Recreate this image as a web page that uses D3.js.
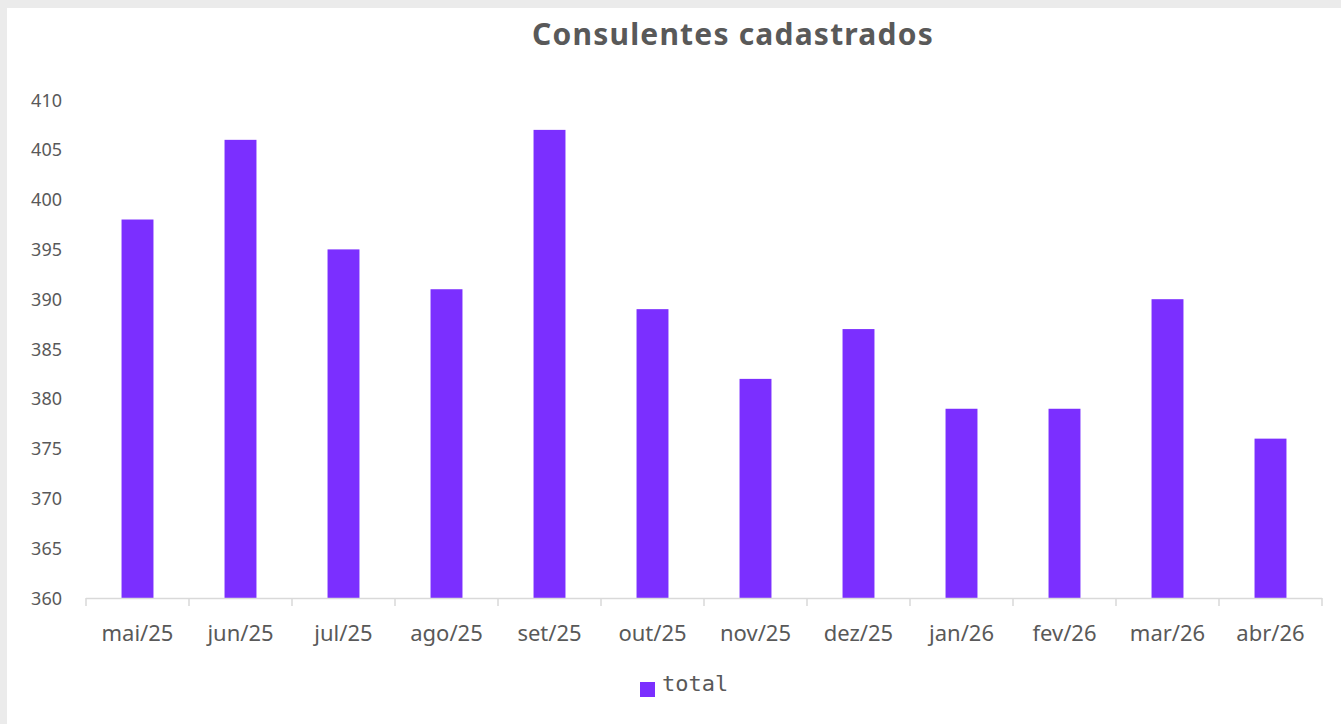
<!DOCTYPE html>
<html>
<head>
<meta charset="utf-8">
<script src="https://cdn.jsdelivr.net/npm/d3@7"></script>
<style>
  body { margin: 0; background: #ebebeb; }
  svg { display: block; }
</style>
</head>
<body>
<script>
// chart data
var months = ["mai/25", "jun/25", "jul/25", "ago/25", "set/25", "out/25",
              "nov/25", "dez/25", "jan/26", "fev/26", "mar/26", "abr/26"];
var totals = [398, 406, 395, 391, 407, 389, 382, 387, 379, 379, 390, 376];
var yTicks = [360, 365, 370, 375, 380, 385, 390, 395, 400, 405, 410];

var W = 1341, H = 724;
var BAR = "#7b2fff";
var TXT = "#595959";

var svg = d3.select("body").append("svg")
  .attr("width", W)
  .attr("height", H);

// white panel
svg.append("rect")
  .attr("x", 7).attr("y", 8)
  .attr("width", W - 7).attr("height", H - 8)
  .style("fill", "white");

// title
svg.append("text")
  .attr("x", 733).attr("y", 45)
  .attr("text-anchor", "middle")
  .style("font-family", "'Noto Sans', sans-serif")
  .style("font-weight", "bold")
  .style("font-size", "30px")
  .style("letter-spacing", "1.2px")
  .style("fill", TXT)
  .text("Consulentes cadastrados");

// scales
var x = d3.scaleBand().domain(months).range([86, 1322]).paddingInner(0.69).paddingOuter(0.345);
var y = d3.scaleLinear().domain([360, 410]).range([598, 100]);

// bars
svg.append("g").selectAll("rect")
  .data(totals)
  .enter().append("rect")
  .attr("x", function(d, i){ return x(months[i]); })
  .attr("y", function(d){ return y(d); })
  .attr("width", x.bandwidth())
  .attr("height", function(d){ return y(360) - y(d); })
  .style("fill", BAR);

// y labels (no axis line)
svg.append("g").selectAll("text")
  .data(yTicks)
  .enter().append("text")
  .attr("x", 62)
  .attr("y", function(d){ return y(d) + 6.5; })
  .attr("text-anchor", "end")
  .style("font-family", "'Noto Sans', sans-serif")
  .style("font-size", "18px")
  .style("fill", TXT)
  .text(function(d){ return d; });

// x axis line + boundary ticks
var step = x.step();
var xa = svg.append("g");
xa.append("line")
  .attr("x1", 86).attr("x2", 1322)
  .attr("y1", 598.5).attr("y2", 598.5)
  .style("stroke", "#d9d9d9").style("stroke-width", 1.5);
xa.selectAll(".tk")
  .data(d3.range(months.length + 1))
  .enter().append("line")
  .attr("class", "tk")
  .attr("x1", function(i){ return 86 + i * step; })
  .attr("x2", function(i){ return 86 + i * step; })
  .attr("y1", 598).attr("y2", 606)
  .style("stroke", "#d9d9d9").style("stroke-width", 1.5);

xa.selectAll(".lb")
  .data(months)
  .enter().append("text")
  .attr("class", "lb")
  .attr("x", function(d){ return x(d) + x.bandwidth() / 2; })
  .attr("y", 641)
  .attr("text-anchor", "middle")
  .style("font-family", "'Noto Sans', sans-serif")
  .style("font-size", "22px")
  .style("fill", TXT)
  .text(function(d){ return d; });

// legend
svg.append("rect")
  .attr("x", 640).attr("y", 682)
  .attr("width", 15).attr("height", 15)
  .style("fill", BAR);
svg.append("text")
  .attr("x", 662).attr("y", 691)
  .style("font-family", "'DejaVu Sans Mono', monospace")
  .style("font-size", "22px")
  .style("fill", TXT)
  .text("total");
</script>
</body>
</html>
